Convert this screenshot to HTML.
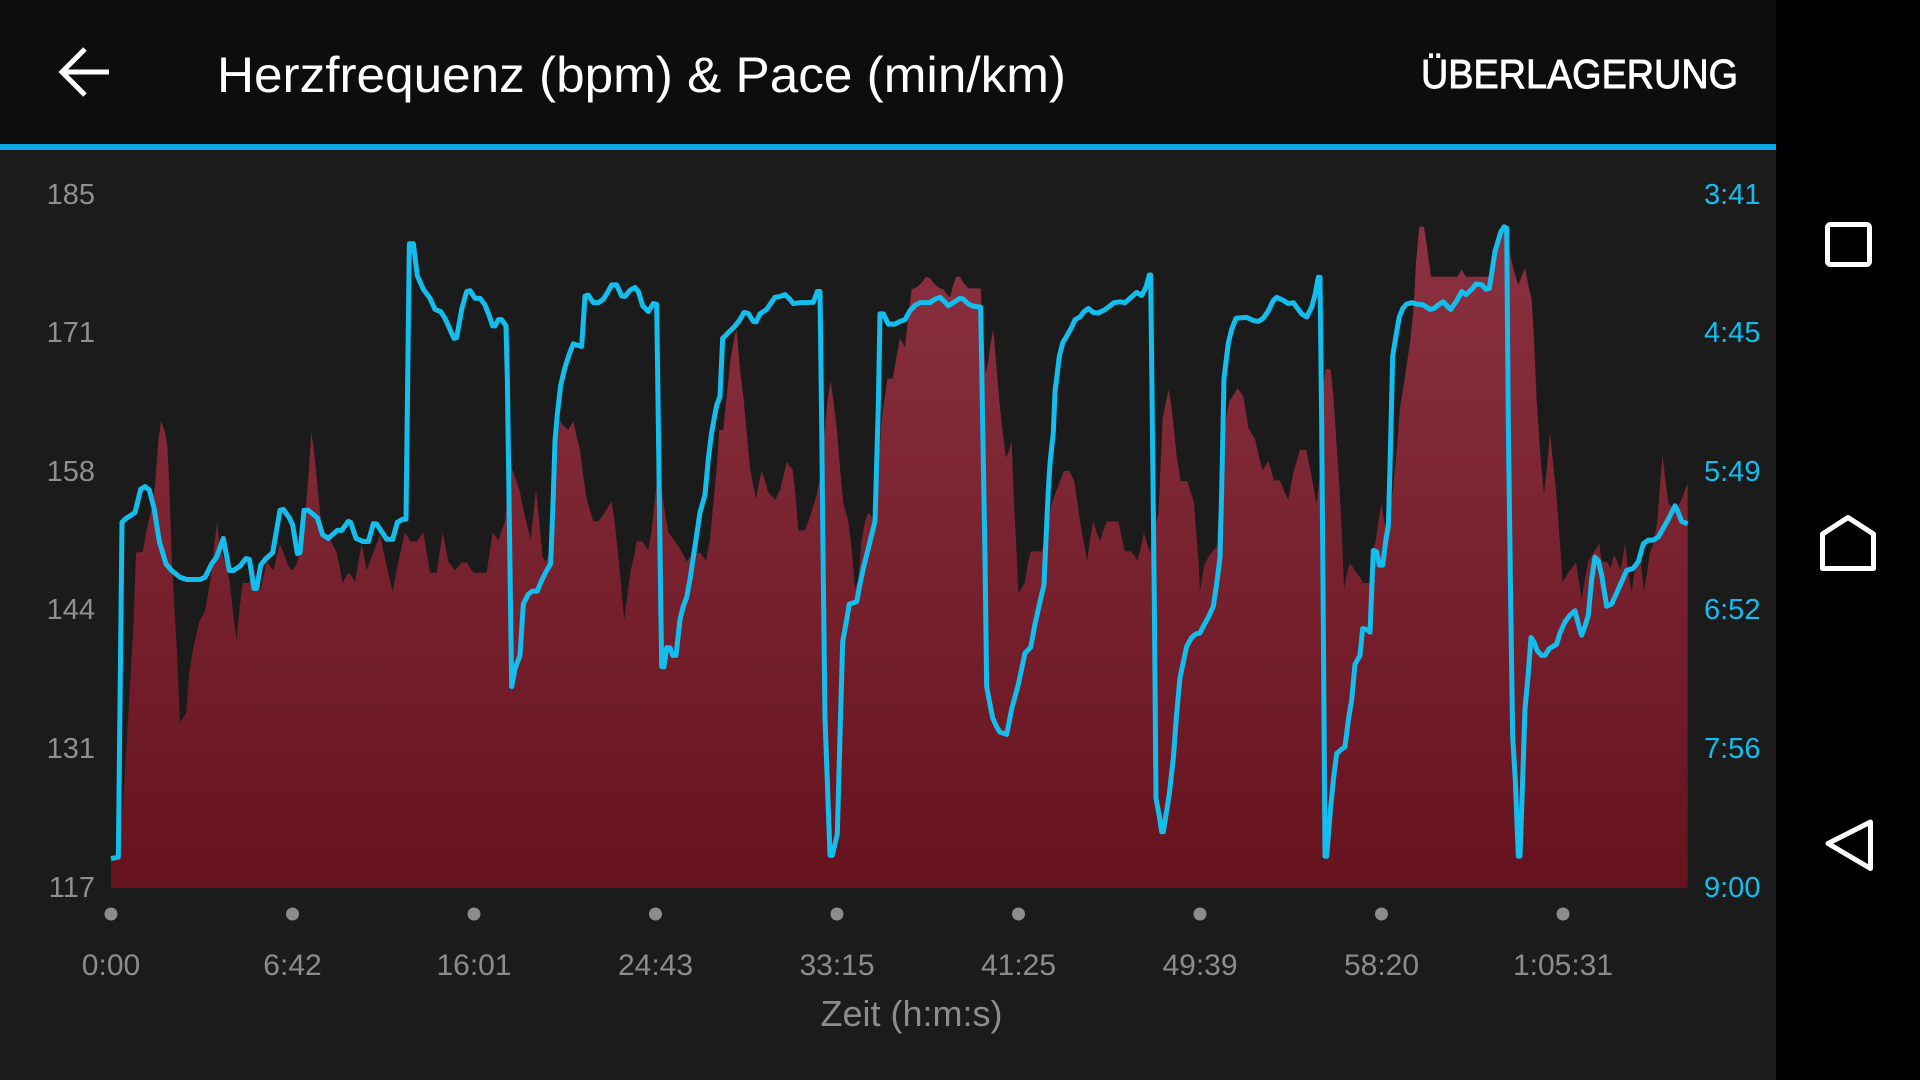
<!DOCTYPE html>
<html>
<head>
<meta charset="utf-8">
<style>
html,body{margin:0;padding:0;background:#1b1b1b;width:1920px;height:1080px;overflow:hidden;}
svg{display:block;}
text{font-family:"Liberation Sans",Arial,sans-serif;}
</style>
</head>
<body>
<svg width="1920" height="1080" viewBox="0 0 1920 1080" xmlns="http://www.w3.org/2000/svg">
<defs>
<linearGradient id="hr" x1="0" y1="0" x2="0" y2="1">
<stop offset="0" stop-color="#8b3141"/>
<stop offset="1" stop-color="#66131e"/>
</linearGradient>
</defs>
<!-- backgrounds -->
<rect x="0" y="0" width="1920" height="1080" fill="#1b1b1b"/>
<rect x="0" y="0" width="1776" height="144" fill="#0d0d0d"/>
<rect x="0" y="144" width="1776" height="6" fill="#0fa7e7"/>
<rect x="1776" y="0" width="144" height="1080" fill="#000"/>

<!-- header -->
<path d="M62 72 H109 M85 49 L62 72 L85 95" fill="none" stroke="#fff" stroke-width="5"/>
<text x="217" y="92" font-size="50" fill="#fff" textLength="849" lengthAdjust="spacingAndGlyphs">Herzfrequenz (bpm) &amp; Pace (min/km)</text>
<text x="1421" y="88" font-size="41" fill="#fff" stroke="#fff" stroke-width="0.9" textLength="317" lengthAdjust="spacingAndGlyphs">ÜBERLAGERUNG</text>

<!-- nav icons -->
<rect x="1827.5" y="224.5" width="42" height="40" rx="3" fill="none" stroke="#fff" stroke-width="5"/>
<polygon points="1848,517.5 1873.5,534 1873.5,568.5 1822.5,568.5 1822.5,534" fill="none" stroke="#fff" stroke-width="5" stroke-linejoin="round"/>
<polygon points="1828,843.5 1870.5,822 1870.5,868.5" fill="none" stroke="#fff" stroke-width="5" stroke-linejoin="round"/>

<!-- axis labels left -->
<g font-size="29" fill="#8f8f8f" text-anchor="end">
<text x="95" y="204">185</text>
<text x="95" y="342">171</text>
<text x="95" y="481">158</text>
<text x="95" y="619">144</text>
<text x="95" y="758">131</text>
<text x="95" y="897">117</text>
</g>
<!-- axis labels right -->
<g font-size="29" fill="#13bdec">
<text x="1704" y="204">3:41</text>
<text x="1704" y="342">4:45</text>
<text x="1704" y="481">5:49</text>
<text x="1704" y="619">6:52</text>
<text x="1704" y="758">7:56</text>
<text x="1704" y="897">9:00</text>
</g>

<!-- chart data -->
<g transform="translate(100 200) scale(0.333333 0.446429)">
<polygon fill="url(#hr)" points="33,1541 33,1480 45,1470 60,1400 70,1340 85,1150 100,960 108,790 128,788 140,740 155,690 165,640 175,540 183,495 195,520 202,550 208,640 215,800 222,900 230,1000 240,1170 258,1150 268,1060 278,1010 290,970 298,945 315,920 325,880 335,830 345,760 352,720 358,770 365,790 375,810 388,850 400,930 410,985 418,920 428,858 448,858 460,815 470,850 482,875 490,845 500,810 510,820 520,830 530,800 540,770 550,790 565,820 578,830 590,815 600,790 612,740 625,620 634,520 640,550 650,620 660,700 672,750 690,760 710,790 728,858 740,840 748,835 765,855 785,770 800,830 820,790 840,750 860,820 878,878 895,810 915,745 932,765 950,765 970,745 990,835 1010,835 1028,745 1045,810 1065,830 1085,812 1100,812 1120,835 1160,835 1178,745 1195,762 1215,720 1230,590 1245,620
1260,655 1275,710 1292,760 1308,650 1318,720 1328,800 1338,810 1348,790 1358,640 1368,560 1380,495 1390,505 1405,515 1420,495 1430,530 1440,560 1450,620 1460,670 1480,720 1495,720 1510,705 1522,690 1535,675 1545,730 1555,800 1565,880 1573,940 1582,885 1592,830 1602,800 1610,765 1628,765 1645,785 1655,740 1665,670 1672,620 1685,650 1695,700 1705,745 1720,760 1735,775 1750,795 1760,810 1770,800 1785,790 1800,790 1818,808 1830,760 1840,680 1850,600 1858,515 1870,515 1880,440 1892,355 1905,300 1910,292 1920,380 1930,440 1940,520 1950,600 1960,640 1968,670 1975,640 1985,608 1995,630 2005,655 2025,672 2040,650 2050,620 2060,587 2078,605 2085,650 2095,740 2115,740 2130,710 2150,660 2160,620 2170,555 2182,450 2192,405 2202,460 2210,510 2220,600 2230,680 2245,720 2255,780 2265,870 2275,850 2285,760 2295,720 2305,700 2315,710 2325,720 2335,600 2345,490 2355,440 2362,400 2378,400 2390,350 2400,310 2415,330 2425,260 2435,200 2452,195 2465,185 2478,172 2490,175 2505,190
2520,198 2530,200 2540,210 2550,218 2558,195 2568,172 2580,172 2590,185 2605,198 2642,198 2645,240 2650,300 2657,390 2665,360 2672,320 2680,290 2688,360 2698,450 2708,520 2718,578 2728,560 2735,540 2742,680 2748,760 2755,880 2765,870 2775,855 2782,820 2792,787 2825,787 2835,760 2855,680 2870,650 2880,630 2892,607 2908,607 2922,628 2930,665 2940,720 2952,770 2962,808 2970,760 2980,720 2990,745 3000,765 3010,740 3020,720 3055,720 3065,755 3075,787 3092,787 3102,795 3112,808 3122,780 3132,745 3140,768 3150,790 3160,740 3175,705 3188,490 3200,445 3206,425 3213,455 3220,500 3230,575 3242,630 3262,630 3270,650 3282,678 3288,740 3295,800 3300,875 3312,820 3325,800 3340,785 3350,775 3365,590 3378,490 3388,450 3398,440 3413,422 3430,440 3445,510 3465,535 3475,570 3488,605 3505,585 3522,628 3540,628 3550,648 3565,672 3580,610 3600,560 3618,560 3630,600 3642,650 3650,680 3662,600 3672,400 3678,378 3692,380 3700,440 3710,550 3718,640 3725,740 3732,870 3740,840 3750,813 3765,830
3780,845 3790,858 3808,858 3818,790 3828,760 3835,720 3845,680 3852,720 3860,735 3870,700 3880,640 3890,560 3900,465 3910,420 3920,370 3930,320 3940,250 3948,140 3958,60 3972,60 3980,100 3993,172 4072,172 4085,155 4098,172 4160,172 4170,170 4180,140 4192,100 4200,70 4212,60 4220,85 4230,120 4242,160 4255,190 4265,170 4275,153 4285,190 4295,225 4302,310 4310,450 4322,580 4332,660 4342,590 4350,520 4358,580 4368,650 4377,740 4388,855 4405,835 4428,812 4438,860 4445,895 4452,860 4465,810 4480,790 4498,770 4505,810 4520,810 4532,825 4542,795 4552,810 4562,830 4575,770 4585,830 4595,880 4602,840 4612,810 4622,810 4632,875 4640,840 4650,790 4660,770 4672,720 4680,640 4688,572 4695,620 4705,680 4720,690 4732,690 4745,670 4755,650 4763,635 4763,1541"/>
<polyline fill="none" stroke="#13bdec" stroke-width="5" stroke-linejoin="round" vector-effect="non-scaling-stroke" points="33,1475 55,1472 66,722 75,715 105,700 122,648 135,642 148,650 162,690 178,765 198,815 215,830 240,845 260,850 300,850 315,845 335,815 350,800 370,758 388,830 400,830 420,820 438,803 448,805 462,870 470,870 482,818 498,803 518,790 540,695 550,693 568,712 578,728 592,792 600,790 612,695 625,695 652,712 668,750 685,758 700,748 712,740 725,740 745,720 752,722 768,758 790,765 805,765 820,725 830,726 860,760 878,760 892,722 908,715 918,715 928,98 940,98 952,170 970,200 990,220 1005,245 1022,250 1035,265 1050,290 1062,310 1070,308 1085,245 1100,205 1110,203 1125,220 1140,220 1155,235 1168,260 1178,282 1185,282 1195,268 1205,268 1218,282 1222,400 1235,1090 1245,1050
1260,1020 1270,905 1285,883 1298,876 1312,876 1325,852 1340,830 1352,815 1360,660 1365,540 1372,480 1382,415 1395,375 1408,345 1420,322 1430,325 1445,328 1455,215 1465,213 1480,230 1495,230 1510,222 1522,208 1535,190 1550,190 1565,215 1575,216 1590,202 1605,196 1615,205 1628,237 1645,250 1660,232 1670,234 1675,500 1680,780 1685,1045 1692,1046 1700,1003 1710,1003 1718,1020 1728,1020 1740,940 1750,910 1760,890 1770,850 1780,800 1790,750 1800,700 1815,660 1825,580 1835,520 1850,460 1860,440 1868,310 1885,297 1902,285 1918,270 1932,252 1945,254 1960,272 1968,273 1980,255 2000,245 2012,232 2025,218 2040,216 2055,212 2068,221 2080,232 2100,230 2120,230 2140,229 2152,205 2160,205 2165,500 2170,850 2175,1160 2190,1468 2197,1468 2212,1420 2220,1200 2228,990 2240,940 2248,905 2270,900 2280,860 2290,825 2305,780 2325,720 2335,460 2340,255 2350,255 2365,278 2385,278 2400,272 2415,268 2430,248 2445,236 2460,230 2475,230 2490,230 2505,222 2520,218
2530,225 2545,237 2560,230 2580,220 2590,222 2605,233 2620,238 2642,240 2648,500 2655,800 2660,1090 2670,1130 2678,1160 2690,1180 2700,1192 2720,1197 2735,1140 2755,1085 2775,1015 2792,1002 2805,950 2820,900 2832,862 2838,760 2845,650 2850,590 2860,520 2865,430 2878,350 2888,320 2900,305 2915,285 2925,268 2940,262 2952,250 2965,243 2980,252 2995,253 3012,247 3025,240 3042,230 3060,228 3075,230 3090,220 3110,207 3125,214 3138,195 3148,168 3152,168 3157,500 3163,900 3168,1340 3178,1380 3185,1415 3190,1415 3208,1330 3220,1250 3230,1150 3240,1070 3260,1000 3275,980 3288,972 3300,970 3310,955 3325,935 3340,910 3350,860 3360,800 3365,650 3372,400 3385,320 3395,290 3408,265 3440,263 3460,270 3475,272 3490,265 3505,248 3520,225 3530,218 3550,225 3565,232 3580,230 3592,242 3605,255 3620,262 3635,240 3645,213 3655,173 3660,173 3665,500 3670,950 3675,1470 3680,1470 3692,1360 3700,1300 3710,1240 3725,1230 3735,1225 3745,1165 3755,1120 3765,1040
3780,1020 3788,960 3800,962 3810,968 3820,785 3830,788 3838,818 3848,818 3858,760 3865,730 3870,600 3878,350 3890,295 3898,262 3908,243 3920,233 3935,230 3950,233 3970,235 3980,240 3990,245 4002,243 4015,235 4030,228 4042,238 4052,245 4070,226 4085,205 4098,212 4115,200 4128,188 4145,190 4158,200 4168,198 4178,150 4185,115 4195,90 4202,72 4212,60 4220,63 4225,500 4232,900 4238,1200 4246,1300 4255,1470 4260,1470 4268,1300 4275,1140 4285,1060 4293,980 4302,990 4312,1010 4325,1020 4335,1020 4348,1005 4370,995 4380,970 4395,945 4410,930 4425,920 4435,950 4445,975 4455,955 4465,930 4475,850 4485,800 4495,808 4505,840 4520,910 4535,905 4550,880 4565,855 4580,830 4600,825 4615,810 4630,770 4645,762 4660,762 4675,755 4690,735 4705,715 4725,685 4732,695 4745,720 4763,725"/>
</g>

<!-- x ticks -->
<g fill="#8c8c8c">
<circle cx="111" cy="914" r="6.5"/>
<circle cx="292.5" cy="914" r="6.5"/>
<circle cx="474" cy="914" r="6.5"/>
<circle cx="655.5" cy="914" r="6.5"/>
<circle cx="837" cy="914" r="6.5"/>
<circle cx="1018.5" cy="914" r="6.5"/>
<circle cx="1200" cy="914" r="6.5"/>
<circle cx="1381.5" cy="914" r="6.5"/>
<circle cx="1563" cy="914" r="6.5"/>
</g>
<g font-size="30" fill="#8c8c8c" text-anchor="middle">
<text x="111" y="975">0:00</text>
<text x="292.5" y="975">6:42</text>
<text x="474" y="975">16:01</text>
<text x="655.5" y="975">24:43</text>
<text x="837" y="975">33:15</text>
<text x="1018.5" y="975">41:25</text>
<text x="1200" y="975">49:39</text>
<text x="1381.5" y="975">58:20</text>
<text x="1563" y="975">1:05:31</text>
</g>
<text x="911.5" y="1026" font-size="36" fill="#8c8c8c" text-anchor="middle">Zeit (h:m:s)</text>
</svg>
</body>
</html>
